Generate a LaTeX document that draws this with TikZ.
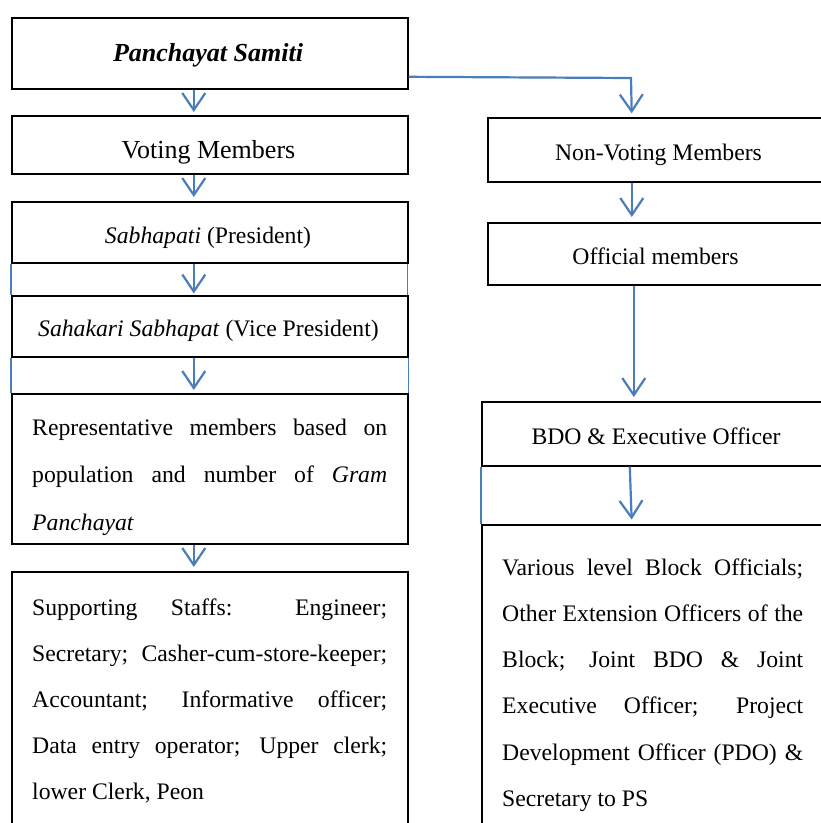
\documentclass[tikz,border=0pt]{standalone}
\usepackage{fontspec}
\setmainfont{Liberation Serif}
\usetikzlibrary{arrows.meta,calc}
\definecolor{arrblue}{RGB}{74,126,187}
\begin{document}
\begin{tikzpicture}[x=1pt,y=-1pt,
  box/.style={draw=black, line width=1.6pt, rectangle, inner sep=0pt, anchor=north west},
  txt/.style={inner sep=0pt, anchor=base, font=\fontsize{23.7pt}{28pt}\selectfont},
  big/.style={txt, font=\fontsize{26pt}{30pt}\selectfont},
  para/.style={inner sep=0pt, anchor=base west},
  arr/.style={draw=arrblue, line width=2.2pt, -{Straight Barb[length=17pt,width=23pt]}},
  side/.style={draw=arrblue, line width=1.2pt}]
\useasboundingbox (0,0) rectangle (821,823);
\fill[white] (0,0) rectangle (821,823);
\clip (0,0) rectangle (821,823);

% left column boxes
\node[box, minimum width=396pt, minimum height=71pt] (ps) at (11,17) {};
\node[box, minimum width=396pt, minimum height=58pt] (vm) at (11,115) {};
\node[box, minimum width=396pt, minimum height=61pt] (sp) at (11,201) {};
\node[box, minimum width=396pt, minimum height=61pt] (ssp) at (11,295) {};
\node[box, minimum width=396pt, minimum height=150pt] (rep) at (11,393) {};
\node[box, minimum width=396pt, minimum height=280pt] (sup) at (11,571) {};

% right column boxes
\node[box, minimum width=360pt, minimum height=64pt] (nvm) at (487,117) {};
\node[box, minimum width=360pt, minimum height=62pt] (om) at (487,222) {};
\node[box, minimum width=360pt, minimum height=64pt] (bdo) at (481,401) {};
\node[box, minimum width=360pt, minimum height=320pt] (var) at (481,524) {};

% texts
\node[big] (tps) at (208,61) {\bfseries\itshape Panchayat Samiti};
\node[big] (tvm) at (208.5,158) {Voting Members};
\node[txt] (tsp) at (208,243.3) {\textit{Sabhapati} (President)};
\node[txt] (tssp) at (208.5,336.7) {\textit{Sahakari Sabhapat} (Vice President)};
\node[txt] (tnvm) at (658.5,160) {Non-Voting Members};
\node[txt] (tom) at (655.5,264) {Official members};
\node[txt] (tbdo) at (656,444.3) {BDO \& Executive Officer};

\node[para] (trep) at (32,435) {\parbox[t]{355pt}{\fontsize{23.7pt}{47.5pt}\selectfont
\makebox[355pt][s]{Representative members based on}\\
\makebox[355pt][s]{population and number of \textit{Gram}}\\
\textit{Panchayat}}};

\node[para] (tsup) at (32,615) {\parbox[t]{355pt}{\fontsize{23.7pt}{46pt}\selectfont
\makebox[355pt][s]{Supporting Staffs: Engineer;}\\
\makebox[355pt][s]{Secretary; Casher-cum-store-keeper;}\\
\makebox[355pt][s]{Accountant; Informative officer;}\\
\makebox[355pt][s]{Data entry operator; Upper clerk;}\\
lower Clerk, Peon}};

\node[para] (tvar) at (502,575) {\parbox[t]{301pt}{\fontsize{23.7pt}{46.3pt}\selectfont
\makebox[301pt][s]{Various level Block Officials;}\\
\makebox[301pt][s]{Other Extension Officers of the}\\
\makebox[301pt][s]{Block; Joint BDO \& Joint}\\
\makebox[301pt][s]{Executive Officer; Project}\\
\makebox[301pt][s]{Development Officer (PDO) \&}\\
Secretary to PS}};

% side lines
\draw[side] (sp.south west) -- (ssp.north west);
\draw[side] ([xshift=-1pt]sp.south east) -- ([xshift=-1pt]ssp.north east);
\draw[side] (ssp.south west) -- (rep.north west);
\draw[side] (ssp.south east) -- (rep.north east);
\draw[side] (bdo.south west) -- (var.north west);

% arrows
\draw[arr, shorten >=3pt] ($(ps.south)+(-16,0)$) -- ($(vm.north)+(-16,0)$);
\draw[arr, shorten >=4pt] ($(vm.south)+(-16,0)$) -- ($(sp.north)+(-16,0)$);
\draw[arr, shorten >=1.5pt] ($(sp.south)+(-16,0)$) -- ($(ssp.north)+(-16,0)$);
\draw[arr, shorten >=3pt] ($(ssp.south)+(-16,0)$) -- ($(rep.north)+(-16,0)$);
\draw[arr, shorten >=4pt] ($(rep.south)+(-16,0)$) -- ($(sup.north)+(-16,0)$);

\coordinate (bend) at (631,78);
\draw[arr, shorten >=3.7pt] ($(ps.east)+(0,23.5)$) -- (bend) -- ($(nvm.north)+(-36,0)$);
\draw[arr, shorten >=5pt] ($(nvm.south)+(-36,0)$) -- ($(om.north)+(-36,0)$);
\draw[arr, shorten >=4pt] ($(om.south)+(-34,0)$) -- ($(bdo.north)+(-28,0)$);
\draw[arr, shorten >=4.5pt] ($(bdo.south)+(-32,0)$) -- ($(var.north)+(-30,0)$);
\end{tikzpicture}
\end{document}
